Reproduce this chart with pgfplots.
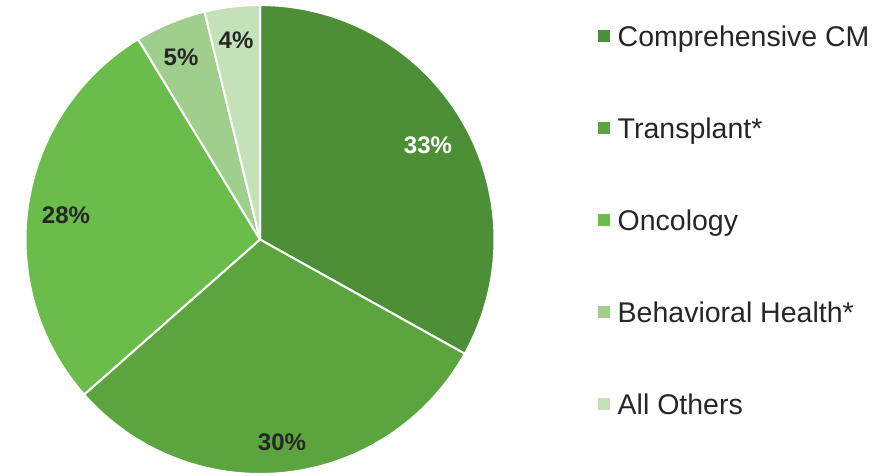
\documentclass[border=0pt]{standalone}
\usepackage{pgfplots}
\pgfplotsset{compat=1.18}
\usepackage{fontspec}
\setmainfont{Liberation Sans}

\definecolor{cCM}{HTML}{4C8F36}
\definecolor{cTr}{HTML}{5CA53E}
\definecolor{cOn}{HTML}{6ABD4B}
\definecolor{cBH}{HTML}{A0CF8D}
\definecolor{cAO}{HTML}{C4E2B7}
\definecolor{txt}{HTML}{262626}

% pie centre and radius, in the axis' pixel units
\def\cx{260}
\def\cy{235.5}
\def\rr{234.5}

\begin{document}
\begin{tikzpicture}
\begin{axis}[
  scale only axis,
  width=883pt, height=475pt,
  xmin=0, xmax=883, ymin=0, ymax=475,
  hide axis,
  clip=false,
  samples=120,
  slice/.style={fill=#1, draw=white, line width=2pt, line join=round},
  legend image code/.code={\fill[#1, draw=none] (0pt,-6pt) rectangle (12pt,6pt);},
  legend cell align=left,
  legend style={
    at={(axis cs:598,449)}, anchor=north west,
    draw=none, fill=none, inner sep=0pt,
    font=\fontsize{28.5}{30}\selectfont\color{txt},
    row sep=71.5pt,
    nodes={inner sep=0pt, text height=20.5pt, text depth=0pt},
    /tikz/every odd column/.style={column sep=7.5pt},
  },
]
% slices: domain = cumulative share in percent (33.1, 30.4, 27.8, 4.9, 3.8)
\addplot[slice=cCM, domain=0:33.1]
  ({\cx+\rr*cos(90-3.6*x)}, {\cy+\rr*sin(90-3.6*x)}) -- (axis cs:\cx,\cy) -- cycle;
\addplot[slice=cTr, domain=33.1:63.5]
  ({\cx+\rr*cos(90-3.6*x)}, {\cy+\rr*sin(90-3.6*x)}) -- (axis cs:\cx,\cy) -- cycle;
\addplot[slice=cOn, domain=63.5:91.3]
  ({\cx+\rr*cos(90-3.6*x)}, {\cy+\rr*sin(90-3.6*x)}) -- (axis cs:\cx,\cy) -- cycle;
\addplot[slice=cBH, domain=91.3:96.2]
  ({\cx+\rr*cos(90-3.6*x)}, {\cy+\rr*sin(90-3.6*x)}) -- (axis cs:\cx,\cy) -- cycle;
\addplot[slice=cAO, domain=96.2:100]
  ({\cx+\rr*cos(90-3.6*x)}, {\cy+\rr*sin(90-3.6*x)}) -- (axis cs:\cx,\cy) -- cycle;
\legend{Comprehensive CM, Transplant*, Oncology, Behavioral Health*, All Others}

% data labels
\begin{scope}[every node/.style={font=\fontsize{24}{26}\selectfont\bfseries, text=txt}]
\node[text=white] at (axis cs:428,330) {33\%};
\node at (axis cs:282,33) {30\%};
\node at (axis cs:66,260) {28\%};
\node at (axis cs:181,418) {5\%};
\node at (axis cs:236,435) {4\%};
\end{scope}
\path (rel axis cs:0,0) rectangle (rel axis cs:1,1);
\end{axis}
\end{tikzpicture}
\end{document}
